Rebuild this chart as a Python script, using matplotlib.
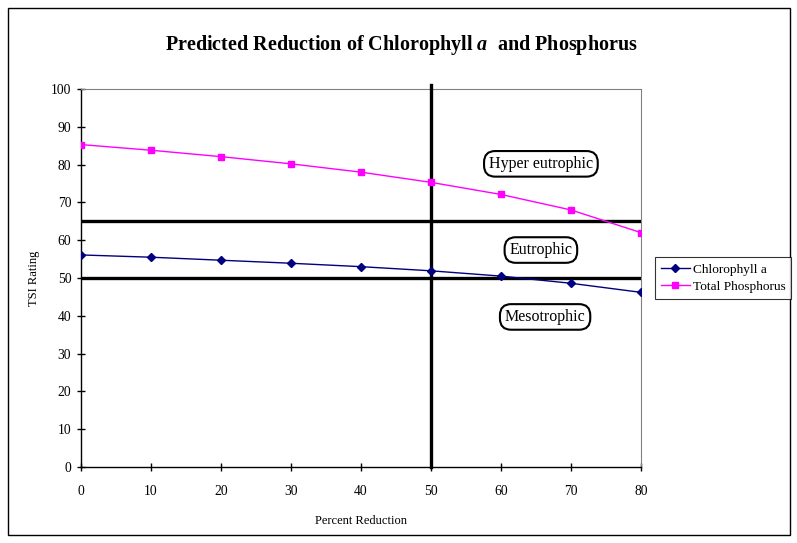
import matplotlib
matplotlib.use("Agg")
import matplotlib.pyplot as plt
from matplotlib.patches import Rectangle

plt.rcParams['font.family'] = ['Liberation Serif', 'DejaVu Serif']
plt.rcParams['mathtext.fontset'] = 'custom'
plt.rcParams['mathtext.it'] = 'Liberation Serif:italic:bold'
plt.rcParams['mathtext.rm'] = 'Liberation Serif:bold'
plt.rcParams['mathtext.bf'] = 'Liberation Serif:bold'

reduction = [0, 10, 20, 30, 40, 50, 60, 70, 80]
chlorophyll = [56.1, 55.5, 54.7, 53.9, 53.0, 51.9, 50.5, 48.6, 46.2]
phosphorus = [85.3, 83.8, 82.1, 80.2, 78.0, 75.3, 72.1, 68.0, 62.0]
thresholds = [65, 50]
split_x = 50
zones = [("Hyper eutrophic", 65.7, 80.2), ("Eutrophic", 65.7, 57.4), ("Mesotrophic", 66.3, 39.7)]

fig = plt.figure(figsize=(7.97, 5.43), dpi=100)
ax = fig.add_axes([81/797, 1-467/543, (641-81)/797, (467-89)/543])

fig.patches.append(Rectangle((8/797, 1-535/543), 782/797, 527/543, transform=fig.transFigure,
                             fill=False, edgecolor='black', linewidth=1.0))

ax.plot(reduction, chlorophyll, color='#000080', marker='D', markersize=4, linewidth=1.0,
        label='Chlorophyll a', zorder=4)
ax.plot(reduction, phosphorus, color='#FF00FF', marker='s', markersize=5, linewidth=1.0,
        label='Total Phosphorus', zorder=4)

for t in thresholds:
    ax.axhline(t, color='black', linewidth=2.4, zorder=3)
ax.plot([split_x, split_x], [0, 101], color='black', linewidth=2.4, clip_on=False, zorder=3)

for text, x, y in zones:
    ax.text(x, y, text, fontsize=11.5, ha='center', va='center', zorder=5,
            bbox=dict(boxstyle='round,pad=0.3,rounding_size=0.7', facecolor='white',
                      edgecolor='black', linewidth=1.5))

ax.set_xlim(0, 80)
ax.set_ylim(0, 100)
ax.set_xticks(range(0, 81, 10))
ax.set_yticks(range(0, 101, 10))
ax.tick_params(direction='inout', length=6, labelsize=9.8, width=1)
ax.tick_params(axis='x', pad=10)
ax.tick_params(axis='y', pad=4)
for s in ['top', 'right']:
    ax.spines[s].set_color('#808080')
    ax.spines[s].set_linewidth(0.8)
ax.spines['left'].set_linewidth(1.0)
ax.spines['bottom'].set_linewidth(1.0)

ax.set_xlabel('Percent Reduction', fontsize=9, labelpad=12)
ax.set_ylabel('TSI Rating', fontsize=9, labelpad=8)

fig.text(401/797, 1-45/543, 'Predicted Reduction of Chlorophyll $\\mathit{a}$  and Phosphorus',
         fontsize=14.5, fontweight='bold', ha='center', va='center')

leg = fig.legend(loc='center', bbox_to_anchor=(723/797, 1-278/543), fontsize=9.6,
                 frameon=True, fancybox=False, edgecolor='black', borderpad=0.45,
                 handlelength=2.2, handletextpad=0.2, labelspacing=0.35, borderaxespad=0)
leg.get_frame().set_linewidth(0.8)

fig.savefig('out.png', dpi=100)
